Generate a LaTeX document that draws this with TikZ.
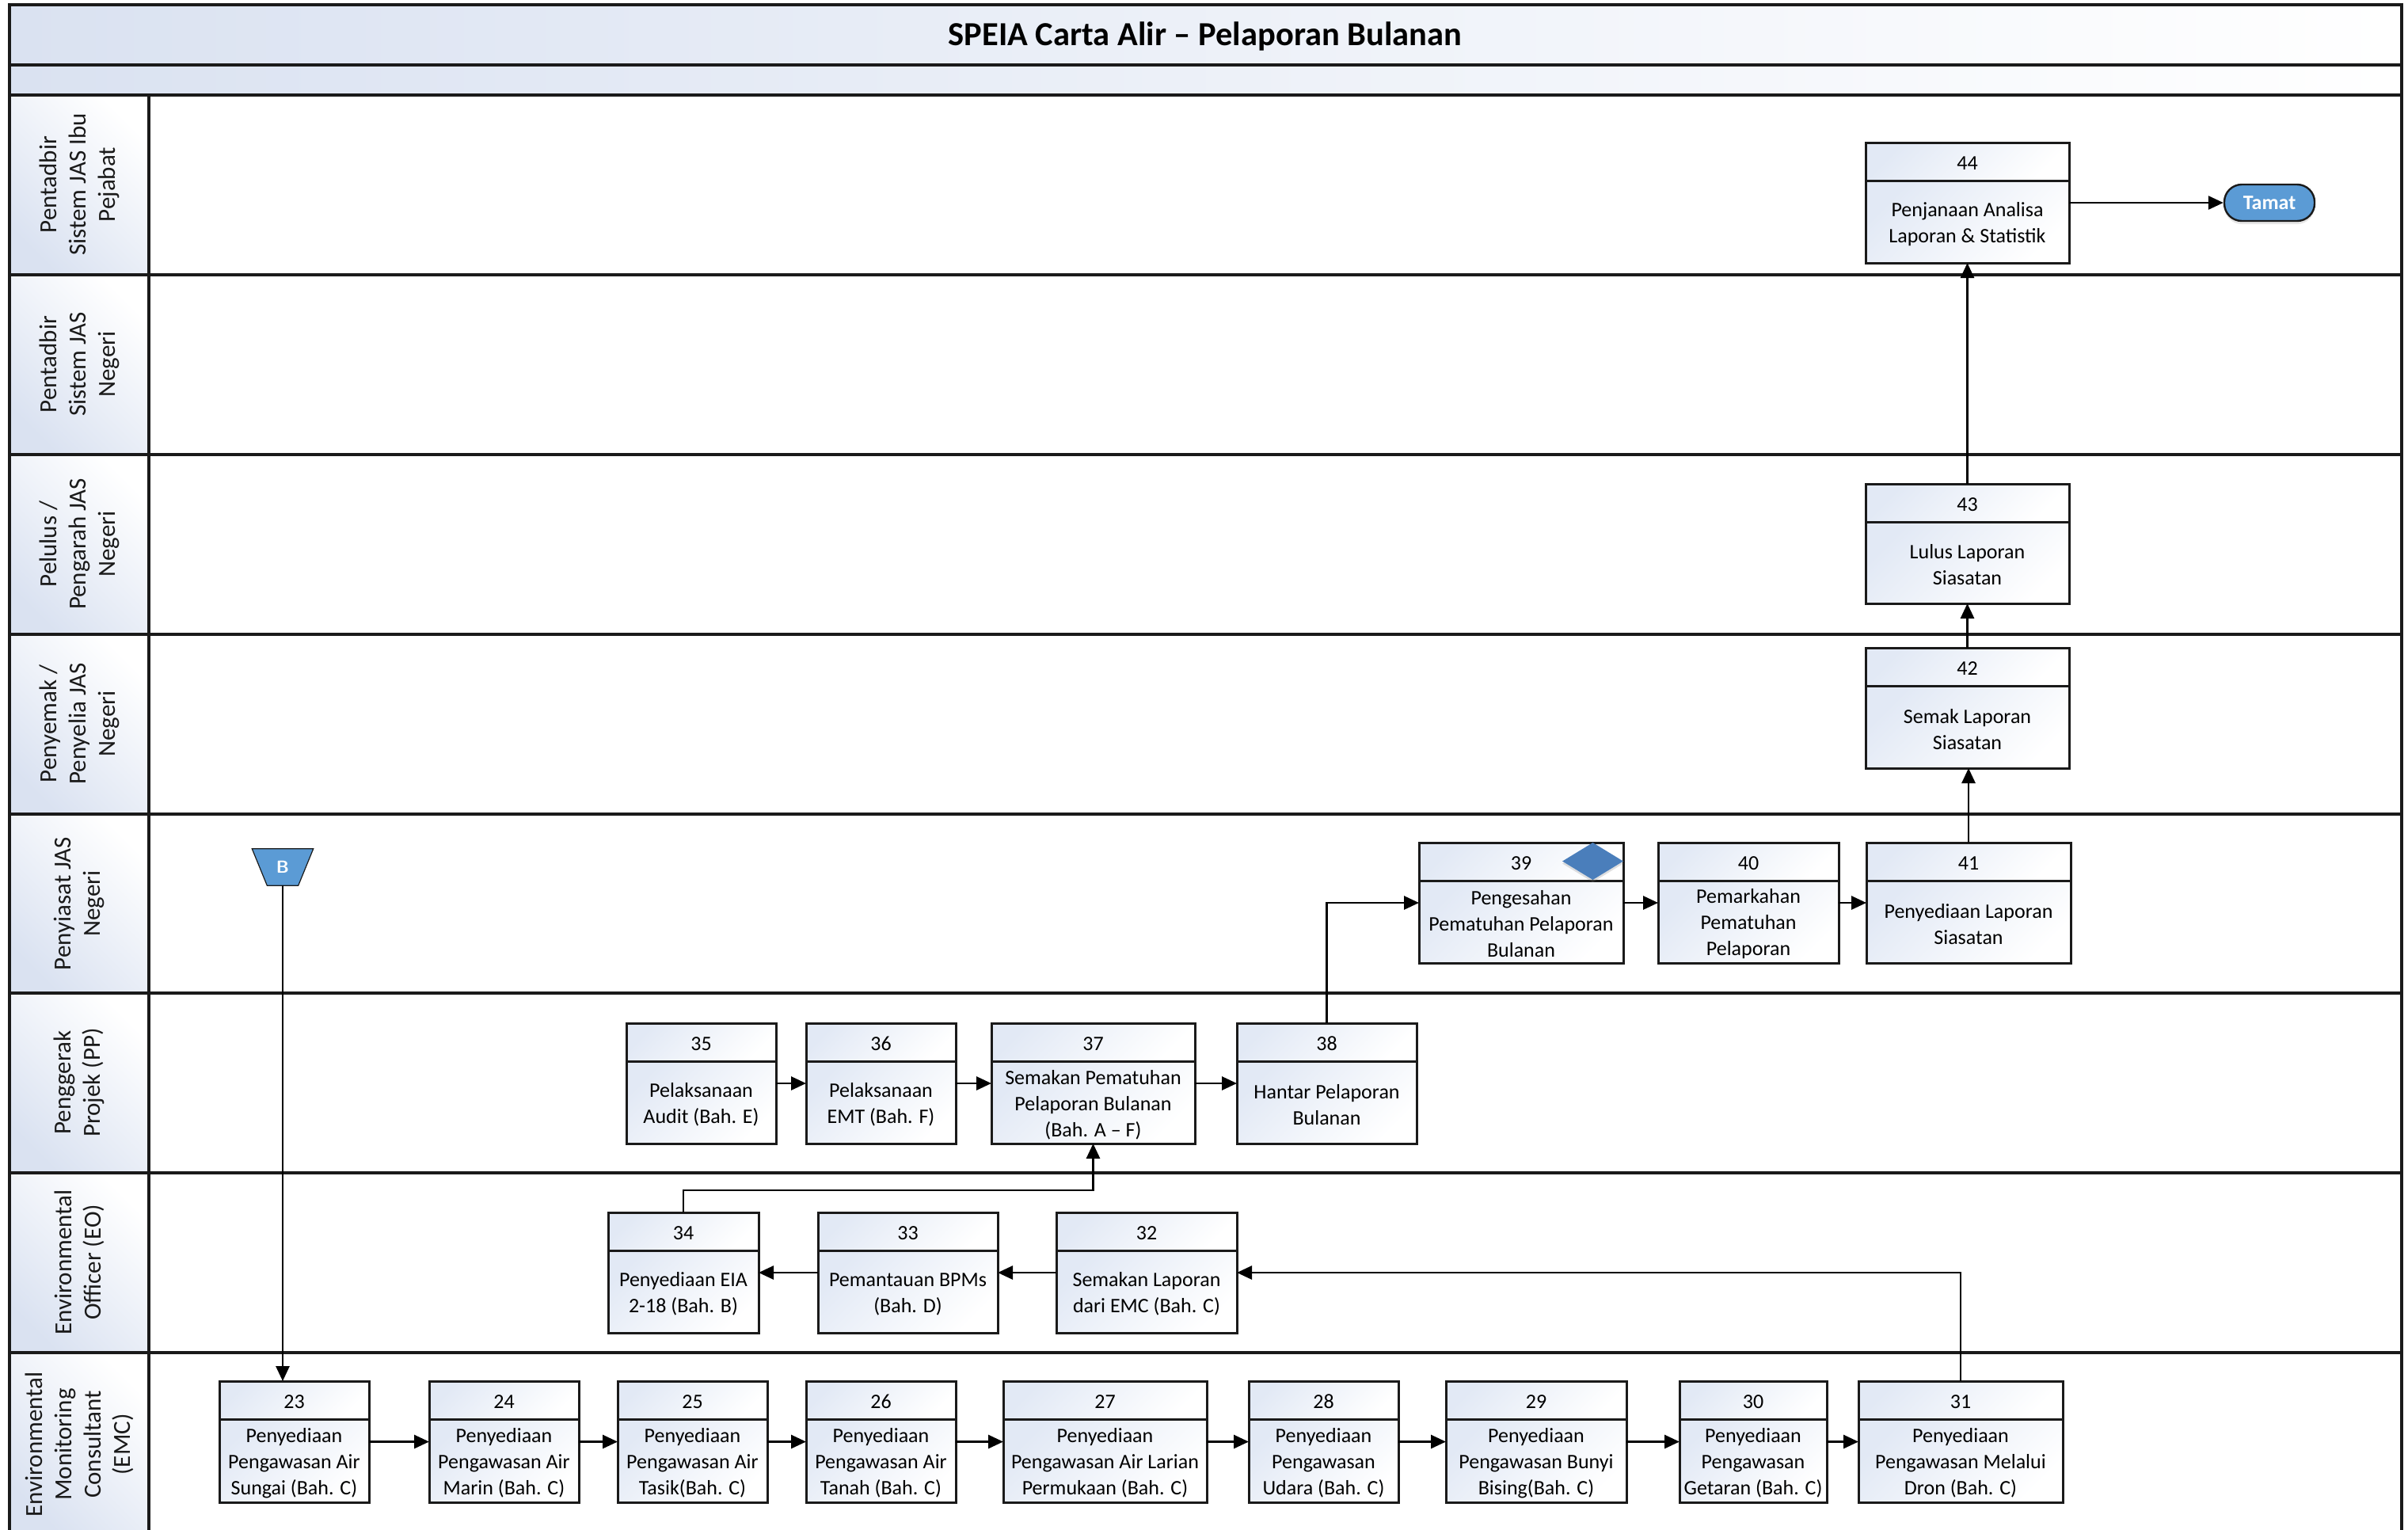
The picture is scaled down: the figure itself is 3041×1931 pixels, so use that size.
\documentclass[tikz,border=0pt]{standalone}
\usepackage{fontspec}
\setmainfont{Carlito}
\usetikzlibrary{arrows.meta,shapes.geometric,shadows,calc}
\definecolor{boxtint}{HTML}{E2E9F5}
\definecolor{hdrtint}{HTML}{DAE2F1}
\definecolor{tamatblue}{HTML}{5B9BD5}
\definecolor{dmdblue}{HTML}{4A7EBB}
\definecolor{frameline}{HTML}{1A1A1A}
\tikzset{
  frame/.style={draw=frameline, line width=3.4pt},
  boxshade/.style={left color=boxtint, right color=white, shading angle=45},
  hdrshade/.style={left color=hdrtint, right color=white, shading angle=135},
  bandshade/.style={left color=hdrtint, right color=white, shading angle=90},
  procbox/.style={draw=frameline, line width=3pt, rectangle, inner sep=0pt, outer sep=0pt},
  boxline/.style={draw=frameline, line width=3pt},
  numtext/.style={font=\fontsize{26}{31}\selectfont, inner sep=0pt},
  bodytext/.style={font=\fontsize{26}{33}\selectfont, align=center, inner sep=0pt},
  lanelabel/.style={font=\fontsize{31}{37}\selectfont, align=center, rotate=90, text=frameline, inner sep=0pt},
  conn/.style={draw=black, line width=2.8pt, -{Triangle[length=19pt,width=17pt]}},
}
\newcommand\pbox[7]{%
  \shade[boxshade] (#2,#3) rectangle (#4,#3+48);
  \shade[boxshade] (#2,#3+48) rectangle (#4,#5);
  \node[procbox, minimum width={#4pt-#2pt}, minimum height={#5pt-#3pt}] (#1) at ({(#2+#4)/2},{(#3+#5)/2}) {};
  \draw[boxline] (#2,#3+48) -- (#4,#3+48);
  \node[numtext] (#1num) at ({(#2+#4)/2},{#3+26}) {#6};
  \node[bodytext] (#1txt) at ({(#2+#4)/2},{(#3+48+#5)/2+3}) {#7};
}
\begin{document}
\begin{tikzpicture}[x=1pt,y=-1pt]
\useasboundingbox (0,0) rectangle (3041,1931);
% bands
\shade[bandshade] (12,6) rectangle (3033,82);
\shade[bandshade] (12,82) rectangle (3033,120);
\foreach \t/\b in {120/347,347/574,574/801,801/1028,1028/1254,1254/1481,1481/1708,1708/1934}
  \shade[hdrshade] (12,\t) rectangle (188,\b);
% frame lines
\draw[frame] (12,6) rectangle (3033,1934);
\foreach \y in {82,120,347,574,801,1028,1254,1481,1708}
  \draw[frame] (12,\y) -- (3033,\y);
\draw[frame] (188,120) -- (188,1934);
% title
\node[font=\fontsize{42.5}{50}\selectfont\bfseries] (title) at (1522,46) {SPEIA Carta Alir -- Pelaporan Bulanan};
% lane labels
\node[lanelabel] (L1) at (100,233) {Pentadbir\\Sistem JAS Ibu\\Pejabat};
\node[lanelabel] (L2) at (100,460) {Pentadbir\\Sistem JAS\\Negeri};
\node[lanelabel] (L3) at (100,687) {Pelulus /\\Pengarah JAS\\Negeri};
\node[lanelabel] (L4) at (100,914) {Penyemak /\\Penyelia JAS\\Negeri};
\node[lanelabel] (L5) at (100,1141) {Penyiasat JAS\\Negeri};
\node[lanelabel] (L6) at (100,1367) {Penggerak\\Projek (PP)};
\node[lanelabel] (L7) at (100,1594) {Environmental\\Officer (EO)};
\node[lanelabel] (L8) at (100,1824) {Environmental\\Monitoring\\Consultant\\(EMC)};
% EMC row
\pbox{n23}{277}{1744}{466}{1897}{23}{Penyediaan\\Pengawasan Air\\Sungai (Bah. C)}
\pbox{n24}{542}{1744}{731}{1897}{24}{Penyediaan\\Pengawasan Air\\Marin (Bah. C)}
\pbox{n25}{780}{1744}{969}{1897}{25}{Penyediaan\\Pengawasan Air\\Tasik(Bah. C)}
\pbox{n26}{1018}{1744}{1207}{1897}{26}{Penyediaan\\Pengawasan Air\\Tanah (Bah. C)}
\pbox{n27}{1267}{1744}{1524}{1897}{27}{Penyediaan\\Pengawasan Air Larian\\Permukaan (Bah. C)}
\pbox{n28}{1577}{1744}{1766}{1897}{28}{Penyediaan\\Pengawasan\\Udara (Bah. C)}
\pbox{n29}{1826}{1744}{2054}{1897}{29}{Penyediaan\\Pengawasan Bunyi\\Bising(Bah. C)}
\pbox{n30}{2121}{1744}{2307}{1897}{30}{Penyediaan\\Pengawasan\\Getaran (Bah. C)}
\pbox{n31}{2347}{1744}{2605}{1897}{31}{Penyediaan\\Pengawasan Melalui\\Dron (Bah. C)}
% EO row
\pbox{n34}{768}{1531}{958}{1683}{34}{Penyediaan EIA\\2-18 (Bah. B)}
\pbox{n33}{1033}{1531}{1260}{1683}{33}{Pemantauan BPMs\\(Bah. D)}
\pbox{n32}{1334}{1531}{1562}{1683}{32}{Semakan Laporan\\dari EMC (Bah. C)}
% PP row
\pbox{n35}{791}{1292}{980}{1444}{35}{Pelaksanaan\\Audit (Bah. E)}
\pbox{n36}{1018}{1292}{1207}{1444}{36}{Pelaksanaan\\EMT (Bah. F)}
\pbox{n37}{1252}{1292}{1509}{1444}{37}{Semakan Pematuhan\\Pelaporan Bulanan\\(Bah. A -- F)}
\pbox{n38}{1562}{1292}{1789}{1444}{38}{Hantar Pelaporan\\Bulanan}
% Penyiasat row
\pbox{n39}{1792}{1064}{2050}{1216}{39}{Pengesahan\\Pematuhan Pelaporan\\Bulanan}
\pbox{n40}{2094}{1064}{2322}{1216}{40}{Pemarkahan\\Pematuhan\\Pelaporan}
\pbox{n41}{2357}{1064}{2615}{1216}{41}{Penyediaan Laporan\\Siasatan}
% upper rows
\pbox{n42}{2356}{818}{2613}{970}{42}{Semak Laporan\\Siasatan}
\pbox{n43}{2356}{611}{2613}{762}{43}{Lulus Laporan\\Siasatan}
\pbox{n44}{2356}{180}{2613}{332}{44}{Penjanaan Analisa\\Laporan \& Statistik}
% diamond on 39
\node[diamond, fill=dmdblue, minimum width=77pt, minimum height=47pt, inner sep=0pt,
      drop shadow={shadow xshift=0pt, shadow yshift=-3pt, opacity=0.25}] (d39)
      at ([xshift=-38.5pt, yshift=-23.5pt]n39.north east) {};
% off-page connector B
\node[minimum width=77pt, minimum height=46pt, inner sep=0pt] (B) at (357,1095) {};
\fill[tamatblue, draw=frameline, line width=1.2pt] (B.north west) -- (B.north east)
   -- ([xshift=-19pt]B.south east) -- ([xshift=19pt]B.south west) -- cycle;
\node[font=\fontsize{22}{26}\selectfont\bfseries\sffamily, text=white] (Btxt) at (B) {B};
% Tamat
\node[draw=frameline, line width=2.4pt, fill=tamatblue, rounded corners=22pt, minimum width=114pt,
      minimum height=46pt, inner sep=0pt, text=white, font=\fontsize{26}{30}\selectfont\bfseries,
      drop shadow={shadow xshift=0pt, shadow yshift=-4pt, opacity=0.2}] (tamat) at (2866,256) {Tamat};
% connectors
\draw[conn] (B.south) -- (B.south |- n23.north);
\draw[conn] (n23.east) -- (n24.west);
\draw[conn] (n24.east) -- (n25.west);
\draw[conn] (n25.east) -- (n26.west);
\draw[conn] (n26.east) -- (n27.west);
\draw[conn] (n27.east) -- (n28.west);
\draw[conn] (n28.east) -- (n29.west);
\draw[conn] (n29.east) -- (n30.west);
\draw[conn] (n30.east) -- (n31.west);
\draw[conn] (n31.north) |- (n32.east);
\draw[conn] (n32.west) -- (n33.east);
\draw[conn] (n33.west) -- (n34.east);
\draw[conn] (n34.north) -- ++(0,-28) -| (n37.south);
\draw[conn] (n35.east) -- (n36.west);
\draw[conn] (n36.east) -- (n37.west);
\draw[conn] (n37.east) -- (n38.west);
\draw[conn] (n38.north) |- (n39.west);
\draw[conn] (n39.east) -- (n40.west);
\draw[conn] (n40.east) -- (n41.west);
\draw[conn] (n41.north) -- (n41.north |- n42.south);
\draw[conn] (n42.north) -- (n43.south);
\draw[conn] (n43.north) -- (n44.south);
\draw[conn] (n44.east) -- (tamat.west);
\end{tikzpicture}
\end{document}
